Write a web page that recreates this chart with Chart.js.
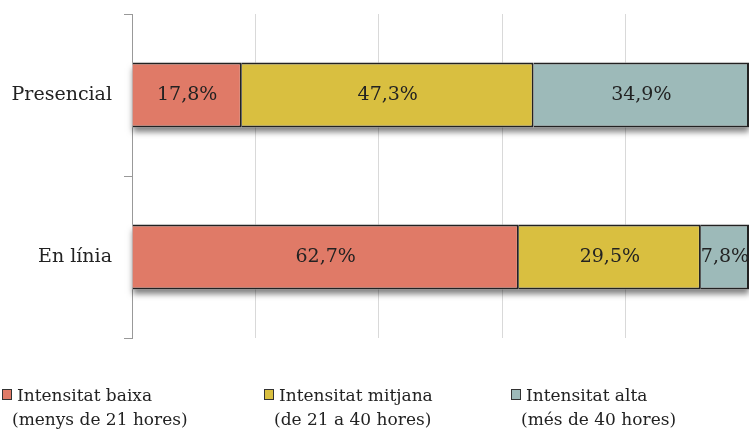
<!DOCTYPE html>
<html lang="ca">
<head>
  <meta charset="UTF-8">
  <title>Intensitat</title>
  <script src="https://cdn.jsdelivr.net/npm/chart.js"></script>
  <style>
    body { margin: 0; background: #fff; font-family: 'DejaVu Serif', serif; color: #222; }
    #wrap { position: relative; width: 749px; height: 432px; }
    .leg { position: absolute; top: 383px; font-size: 17px; line-height: 24px; white-space: nowrap; }
    .leg i { position: absolute; left: 0; top: 6px; width: 8px; height: 9px; border: 1.5px solid #333; }
    .leg span { display: block; padding-left: 15px; }
    .leg span + span { padding-left: 10px; }
  </style>
</head>
<body>
  <div id="wrap">
    <canvas id="c" width="749" height="432"></canvas>
    <div class="leg" style="left:2px"><i style="background:#E07A67"></i><span>Intensitat baixa</span><span>(menys de 21 hores)</span></div>
    <div class="leg" style="left:264px"><i style="background:#D9BF40"></i><span>Intensitat mitjana</span><span>(de 21 a 40 hores)</span></div>
    <div class="leg" style="left:511px"><i style="background:#9DBAB9"></i><span>Intensitat alta</span><span>(més de 40 hores)</span></div>
  </div>

  <script>
    const categories = ['Presencial', 'En línia'];
    const baixa = [17.8, 62.7];
    const mitjana = [47.3, 29.5];
    const alta = [34.9, 7.8];
    const seriesNames = ['Intensitat baixa', 'Intensitat mitjana', 'Intensitat alta'];
    const colors = ['#E07A67', '#D9BF40', '#9DBAB9'];

    // drop shadow under each stacked bar + value labels
    const shadow = {
      id: 'shadow',
      beforeDatasetsDraw(chart) {
        const ctx = chart.ctx;
        const metas = chart.data.datasets.map((ds, i) => chart.getDatasetMeta(i));
        ctx.save();
        ctx.shadowColor = 'rgba(0,0,0,0.5)';
        ctx.shadowBlur = 6;
        ctx.shadowOffsetY = 5;
        ctx.fillStyle = '#fff';
        chart.data.labels.forEach((l, j) => {
          const bars = metas.map(m => m.data[j]);
          const left = Math.min(...bars.map(b => b.base));
          const right = Math.max(...bars.map(b => b.x));
          const h = bars[0].height;
          ctx.fillRect(left, bars[0].y - h / 2, right - left, h);
        });
        ctx.restore();
      },
      afterDatasetsDraw(chart) {
        const ctx = chart.ctx;
        ctx.save();
        ctx.font = '19px "DejaVu Serif", serif';
        ctx.fillStyle = '#222';
        ctx.textAlign = 'center';
        ctx.textBaseline = 'middle';
        chart.data.datasets.forEach((ds, i) => {
          chart.getDatasetMeta(i).data.forEach((bar, j) => {
            const x = (bar.x + bar.base) / 2;
            ctx.fillText(ds.data[j].toFixed(1).replace('.', ',') + '%', x, bar.y);
          });
        });
        ctx.restore();
      }
    };

    new Chart(document.getElementById('c'), {
      type: 'bar',
      data: {
        labels: categories,
        datasets: [baixa, mitjana, alta].map((d, i) => ({
          label: seriesNames[i],
          data: d,
          backgroundColor: colors[i],
          borderColor: '#222',
          borderWidth: 2,
          barPercentage: 0.4,
          categoryPercentage: 1
        }))
      },
      options: {
        indexAxis: 'y',
        responsive: false,
        animation: false,
        layout: { padding: { top: 14, bottom: 94, right: 0 } },
        plugins: { legend: { display: false }, tooltip: { enabled: false } },
        scales: {
          x: {
            stacked: true,
            min: 0,
            max: 100,
            ticks: { display: false, stepSize: 20 },
            grid: { color: '#d9d9d9', drawTicks: false },
            border: { display: false }
          },
          y: {
            stacked: true,
            afterFit(scale) { scale.width = 132; scale.paddingTop = 0; scale.paddingBottom = 0; },
            ticks: { color: '#222', font: { family: 'DejaVu Serif', size: 19 }, padding: 12 },
            grid: { drawOnChartArea: false, tickLength: 8, color: '#999' },
            border: { color: '#999' }
          }
        }
      },
      plugins: [shadow]
    });
  </script>
</body>
</html>
